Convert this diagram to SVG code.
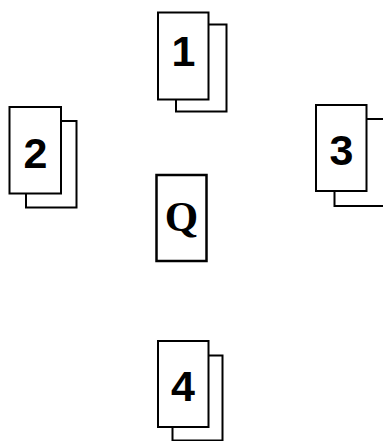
<svg xmlns="http://www.w3.org/2000/svg" width="383" height="441" viewBox="0 0 383 441">
<style>
.card{fill:#fff;stroke:#000;stroke-width:2}
.q{fill:#fff;stroke:#000;stroke-width:2.5}
.num{font-family:"Liberation Sans",Arial,sans-serif;font-weight:bold;font-size:43px;text-anchor:middle;fill:#000}
.ql{font-family:"Liberation Serif","Times New Roman",serif;font-weight:bold;font-size:43px;text-anchor:middle;fill:#000}
</style>
<rect width="383" height="441" fill="#fff"/>
<g id="connectors"></g>
<g id="card1">
<rect class="card" x="176" y="24.5" width="50.5" height="87"/>
<rect class="card" x="158" y="12.5" width="50.5" height="87"/>
<text class="num" x="183.5" y="66">1</text>
</g>
<g id="card2">
<rect class="card" x="26" y="121" width="50.5" height="86.5"/>
<rect class="card" x="9.5" y="107" width="51.5" height="86.5"/>
<text class="num" x="35.5" y="168">2</text>
</g>
<g id="card3">
<rect class="card" x="334.5" y="119" width="60" height="87"/>
<rect class="card" x="316" y="105" width="50.5" height="86"/>
<text class="num" x="341.5" y="165">3</text>
</g>
<g id="cardQ">
<rect class="q" x="156.5" y="175" width="50" height="86"/>
<text class="ql" x="181.5" y="231">Q</text>
</g>
<g id="card4">
<rect class="card" x="172.5" y="355.5" width="50" height="85"/>
<rect class="card" x="158" y="341" width="50.5" height="86"/>
<text class="num" x="183" y="401">4</text>
</g>
</svg>
